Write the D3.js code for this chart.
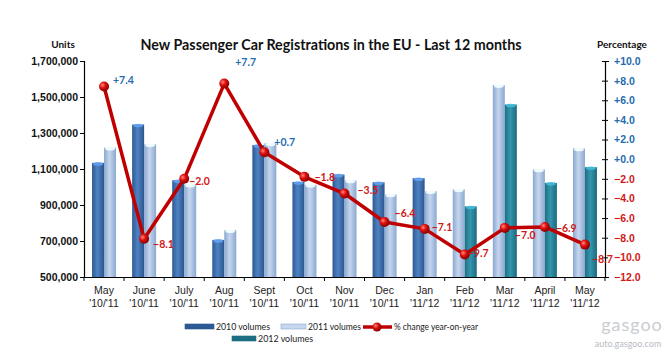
<!DOCTYPE html>
<html>
<head>
<meta charset="utf-8">
<script src="https://cdn.jsdelivr.net/npm/d3@7"></script>
<style>
  body { margin: 0; background: #fff; }
  svg { display: block; font-family: Lato, "Open Sans", sans-serif; }
</style>
</head>
<body>
<div id="chart"></div>
<script>
// data
const months = ["May", "June", "July", "Aug", "Sept", "Oct", "Nov", "Dec", "Jan", "Feb", "Mar", "April", "May"];
const periods = ["'10/'11", "'10/'11", "'10/'11", "'10/'11", "'10/'11", "'10/'11", "'10/'11", "'10/'11", "'11/'12", "'11/'12", "'11/'12", "'11/'12", "'11/'12"];
const firstBar = [1134000, 1347000, 1037000, 706000, 1233000, 1028000, 1069000, 1026000, 1049000, 987000, 1566000, 1097000, 1214000];
const secondBar = [1218000, 1237000, 1013000, 760000, 1242000, 1012000, 1036000, 958000, 976000, 892000, 1458000, 1023000, 1110000];
// which series each bar belongs to
const firstYear = ["2010", "2010", "2010", "2010", "2010", "2010", "2010", "2010", "2010", "2011", "2011", "2011", "2011"];
const secondYear = ["2011", "2011", "2011", "2011", "2011", "2011", "2011", "2011", "2011", "2012", "2012", "2012", "2012"];
const pctChange = [7.4, -8.1, -2.0, 7.7, 0.7, -1.8, -3.5, -6.4, -7.1, -9.7, -7.0, -6.9, -8.7];
const unitTicks = [500000, 700000, 900000, 1100000, 1300000, 1500000, 1700000];
const pctTicks = [-12, -10, -8, -6, -4, -2, 0, 2, 4, 6, 8, 10];

// label placement next to markers (layout only)
const labelOffsets = [[9, -6], [9, 6], [5, 3], [11, -21], [10, -10], [10, 0], [13, -3], [10, -9], [7, -2], [3, -1], [10, 7], [11, 1], [7, 15]];

const W = 671, H = 352;
const margin = { top: 61, right: 66, bottom: 75, left: 84 };
const width = W - margin.left - margin.right;
const height = H - margin.top - margin.bottom;

const colors = {
    "2010": ["#2d5a94", "#4f82c2", "#2b568e"],
    "2011": ["#8aa7cf", "#c5d6ee", "#8ba8d0"],
    "2012": ["#1d6f84", "#3596ae", "#1b6a7e"]
};
const red = "#c00000";
const blueTxt = "#1f6cb0";
const redTxt = "#d01818";

const svg = d3.select("#chart").append("svg")
    .attr("width", W)
    .attr("height", H);

const defs = svg.append("defs");
Object.entries(colors).forEach(([k, c]) => {
    const g = defs.append("linearGradient").attr("id", "g" + k)
        .attr("x1", 0).attr("x2", 1).attr("y1", 0).attr("y2", 0);
    g.append("stop").attr("offset", "0%").attr("stop-color", c[0]);
    g.append("stop").attr("offset", "45%").attr("stop-color", c[1]);
    g.append("stop").attr("offset", "100%").attr("stop-color", c[2]);
});
const rg = defs.append("radialGradient").attr("id", "ball")
    .attr("cx", "35%").attr("cy", "35%").attr("r", "65%");
rg.append("stop").attr("offset", "0%").attr("stop-color", "#ff8a7a");
rg.append("stop").attr("offset", "45%").attr("stop-color", "#e01010");
rg.append("stop").attr("offset", "100%").attr("stop-color", "#8a0000");

const g = svg.append("g")
    .attr("transform", `translate(${margin.left},${margin.top})`);

const x = d3.scaleBand()
    .domain(d3.range(months.length))
    .range([0, width])
    .paddingInner(0)
    .paddingOuter(0);

const y = d3.scaleLinear().domain([500000, 1700000]).range([height, 0]);
const yr = d3.scaleLinear().domain([-12, 10]).range([height, 0]);

const barW = 12;

// bars
const bars = [];
months.forEach((m, i) => {
    bars.push({ i, v: firstBar[i], year: firstYear[i], off: -barW });
    bars.push({ i, v: secondBar[i], year: secondYear[i], off: 0 });
});

const bg = g.selectAll(".bar").data(bars).enter().append("g").attr("class", "bar");
bg.append("rect")
    .attr("x", d => x(d.i) + x.bandwidth() / 2 + d.off)
    .attr("y", d => y(d.v))
    .attr("width", barW)
    .attr("height", d => height - y(d.v))
    .attr("fill", d => `url(#g${d.year})`);
bg.append("ellipse")
    .attr("cx", d => x(d.i) + x.bandwidth() / 2 + d.off + barW / 2)
    .attr("cy", d => y(d.v) + 1)
    .attr("rx", barW / 2 - 1)
    .attr("ry", 1.8)
    .attr("fill", d => d3.color(colors[d.year][1]).brighter(0.6))
    .attr("opacity", 0.9);

// axes
const yAxis = g.append("g")
    .call(d3.axisLeft(y).tickValues(unitTicks).tickSize(4).tickFormat(d3.format(",")));
yAxis.select(".domain").attr("stroke", "#000").attr("stroke-width", 1.2);
yAxis.selectAll("text")
    .attr("font-size", 10.5).attr("font-weight", "bold").attr("fill", "#111")
    .attr("x", -6);

const yrAxis = g.append("g")
    .attr("transform", `translate(${width},0)`)
    .call(d3.axisRight(yr).tickValues(pctTicks).tickSize(4)
        .tickFormat(d => (d >= 0 ? "+" : "") + d3.format(".1f")(d)));
yrAxis.select(".domain").attr("stroke", "#000").attr("stroke-width", 1.2);
yrAxis.selectAll(".tick line").attr("x1", -3).attr("x2", 3);
yrAxis.selectAll("text")
    .attr("font-size", 10.5).attr("font-weight", "bold")
    .attr("x", 9)
    .attr("fill", d => d >= 0 ? blueTxt : redTxt);

const xAxis = g.append("g")
    .attr("transform", `translate(0,${height})`)
    .call(d3.axisBottom(x).tickSize(0).tickFormat(""));
xAxis.select(".domain").attr("stroke", "#000").attr("stroke-width", 1.2);
xAxis.selectAll(".sep")
    .data(d3.range(months.length + 1))
    .enter().append("line")
    .attr("x1", d => d * x.step()).attr("x2", d => d * x.step())
    .attr("y1", 0).attr("y2", 4)
    .attr("stroke", "#000");

const xl = xAxis.selectAll(".xl").data(months).enter().append("text")
    .attr("class", "xl")
    .attr("text-anchor", "middle")
    .attr("font-size", 10.5)
    .attr("fill", "#222");
xl.append("tspan")
    .attr("x", (d, i) => x(i) + x.bandwidth() / 2)
    .attr("y", 17)
    .text(d => d);
xl.append("tspan")
    .attr("x", (d, i) => x(i) + x.bandwidth() / 2)
    .attr("y", 30)
    .text((d, i) => periods[i]);

// line
const line = d3.line()
    .x((d, i) => x(i) + x.bandwidth() / 2)
    .y(d => yr(d));

g.append("path")
    .datum(pctChange)
    .attr("fill", "none")
    .attr("stroke", red)
    .attr("stroke-width", 3.5)
    .attr("stroke-linejoin", "round")
    .attr("d", line);

g.selectAll(".pt").data(pctChange).enter().append("circle")
    .attr("class", "pt")
    .attr("cx", (d, i) => x(i) + x.bandwidth() / 2)
    .attr("cy", d => yr(d))
    .attr("r", 5)
    .attr("fill", "url(#ball)");

g.selectAll(".pl").data(pctChange).enter().append("text")
    .attr("class", "pl")
    .attr("x", (d, i) => x(i) + x.bandwidth() / 2 + labelOffsets[i][0])
    .attr("y", (d, i) => yr(d) + labelOffsets[i][1])
    .attr("dy", "0.35em")
    .attr("font-size", 10.5)
    .attr("font-weight", "bold")
    .attr("fill", d => d >= 0 ? blueTxt : redTxt)
    .text(d => (d >= 0 ? "+" : "") + d3.format(".1f")(d));

// titles
svg.append("text")
    .attr("x", 331).attr("y", 50)
    .attr("text-anchor", "middle")
    .attr("font-size", 15.5).attr("font-weight", "bold").attr("fill", "#111")
    .attr("textLength", 381).attr("lengthAdjust", "spacingAndGlyphs")
    .text("New Passenger Car Registrations in the EU - Last 12 months");
svg.append("text")
    .attr("x", 63).attr("y", 48)
    .attr("text-anchor", "middle")
    .attr("font-size", 10).attr("font-weight", "bold").attr("fill", "#111")
    .text("Units");
svg.append("text")
    .attr("x", 622).attr("y", 48)
    .attr("text-anchor", "middle")
    .attr("font-size", 10).attr("font-weight", "bold").attr("fill", "#111")
    .text("Percentage");

// legend
const leg = svg.append("g").attr("font-size", 9.5).attr("fill", "#222");
const legItems = [
    { key: "2010", label: "2010 volumes", x: 185, y: 327, w: 29, tl: 54 },
    { key: "2011", label: "2011 volumes", x: 281, y: 327, w: 25, tl: 53 },
    { key: "2012", label: "2012 volumes", x: 232, y: 339, w: 24, tl: 55 }
];
legItems.forEach(it => {
    leg.append("rect")
        .attr("x", it.x).attr("y", it.y - 3)
        .attr("width", it.w).attr("height", 5)
        .attr("fill", colors[it.key][it.key === "2011" ? 1 : 0])
        .attr("stroke", colors[it.key][2]).attr("stroke-width", 0.6);
    leg.append("text")
        .attr("x", it.x + it.w + 2).attr("y", it.y).attr("dy", "0.35em")
        .attr("fill", "#222")
        .attr("textLength", it.tl).attr("lengthAdjust", "spacingAndGlyphs")
        .text(it.label);
});
leg.append("line")
    .attr("x1", 363).attr("x2", 392).attr("y1", 327).attr("y2", 327)
    .attr("stroke", red).attr("stroke-width", 3.5);
leg.append("circle").attr("cx", 377).attr("cy", 327).attr("r", 4.5).attr("fill", "url(#ball)");
leg.append("text")
    .attr("x", 394).attr("y", 327).attr("dy", "0.35em")
    .attr("fill", "#222")
    .attr("textLength", 84).attr("lengthAdjust", "spacingAndGlyphs")
    .text("% change year-on-year");

// watermark
svg.append("text")
    .attr("x", 632).attr("y", 331)
    .attr("text-anchor", "middle")
    .attr("font-size", 18).attr("fill", "#c9ccd2")
    .attr("letter-spacing", 1)
    .text("gasgoo");
svg.append("text")
    .attr("x", 628).attr("y", 347)
    .attr("text-anchor", "middle")
    .attr("font-size", 9).attr("fill", "#b8bcc4")
    .text("auto.gasgoo.com");
</script>
</body>
</html>
